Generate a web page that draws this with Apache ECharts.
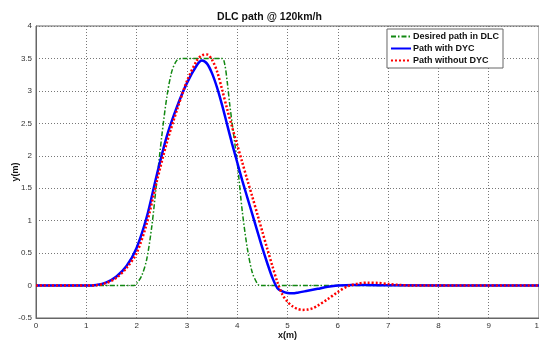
<!DOCTYPE html>
<html><head><meta charset="utf-8">
<script src="https://cdn.jsdelivr.net/npm/echarts@6/dist/echarts.min.js"></script>
<style>html,body{margin:0;padding:0;background:#fff}#c{width:539px;height:342px}</style>
</head><body><div id="c"></div>
<script>
const title = "DLC path @ 120km/h";
const xName = "x(m)";
const yName = "y(m)";
const seriesNames = ["Desired path in DLC", "Path with DYC", "Path without DYC"];

const desiredX = [0, 1.95, 2.0, 2.1, 2.2, 2.3, 2.4, 2.5, 2.6, 2.7, 2.8, 2.9, 3.7, 3.75, 3.8, 3.85, 3.9, 4.0, 4.1, 4.2, 4.3, 4.4, 4.45, 10];
const desiredY = [0, 0, 0.03, 0.15, 0.4, 0.9, 1.6, 2.3, 2.9, 3.3, 3.47, 3.5, 3.5, 3.42, 3.15, 2.8, 2.5, 1.9, 1.15, 0.58, 0.2, 0.03, 0, 0];

const dycX = [0, 1.0, 1.2, 1.4, 1.6, 1.8, 2.0, 2.2, 2.4, 2.6, 2.8, 3.0, 3.2, 3.3, 3.4, 3.5, 3.6, 3.7, 3.8, 3.9, 4.0, 4.1, 4.2, 4.3, 4.4, 4.5, 4.6, 4.7, 4.8, 4.9, 5.0, 5.1, 5.2, 5.4, 5.6, 5.8, 6.0, 6.3, 6.8, 10];
const dycY = [0, 0, 0.01, 0.05, 0.14, 0.3, 0.58, 1.05, 1.7, 2.3, 2.75, 3.12, 3.4, 3.47, 3.42, 3.27, 3.05, 2.78, 2.48, 2.18, 1.9, 1.62, 1.36, 1.1, 0.84, 0.58, 0.34, 0.12, -0.04, -0.09, -0.115, -0.12, -0.11, -0.08, -0.05, -0.02, 0, 0.01, 0.005, 0];

const noDycX = [0, 1.0, 1.2, 1.4, 1.6, 1.8, 2.0, 2.2, 2.4, 2.6, 2.8, 3.0, 3.2, 3.3, 3.4, 3.5, 3.6, 3.7, 3.8, 3.9, 4.0, 4.1, 4.2, 4.3, 4.4, 4.5, 4.6, 4.7, 4.8, 4.9, 5.0, 5.1, 5.2, 5.3, 5.4, 5.5, 5.6, 5.8, 6.0, 6.2, 6.4, 6.6, 6.8, 7.0, 7.2, 7.5, 10];
const noDycY = [0, 0, 0.005, 0.04, 0.12, 0.27, 0.5, 0.95, 1.6, 2.2, 2.7, 3.15, 3.47, 3.55, 3.56, 3.48, 3.3, 3.02, 2.72, 2.44, 2.17, 1.9, 1.63, 1.37, 1.1, 0.83, 0.56, 0.3, 0.05, -0.14, -0.25, -0.32, -0.36, -0.375, -0.37, -0.35, -0.31, -0.21, -0.1, -0.01, 0.03, 0.045, 0.04, 0.025, 0.01, 0, 0];

const xTicks = {min: 0, max: 10, interval: 1};
const yTicks = {min: -0.5, max: 4, interval: 0.5};

function pairs(xs, ys) { return xs.map((x, i) => [x, ys[i]]); }

const chart = echarts.init(document.getElementById('c'), null, {renderer: 'canvas'});
const FONT = 'Liberation Sans, Arial, sans-serif';
const axisLabelStyle = {color: '#333', fontSize: 8, fontFamily: FONT};
const splitStyle = {show: true, lineStyle: {color: '#777', type: [1, 2], width: 1}};
chart.setOption({
  animation: false,
  backgroundColor: '#fff',
  title: {text: title, left: 'center', top: 7, textStyle: {fontSize: 10.5, fontWeight: 'bold', color: '#111', fontFamily: FONT}},
  grid: {left: 36, right: 0, top: 26, bottom: 24, containLabel: false, outerBoundsMode: 'none', show: true, borderColor: '#666', borderWidth: 1},
  legend: {
    orient: 'vertical', right: 36, top: 29, itemWidth: 20, itemHeight: 8, itemGap: 3,
    backgroundColor: '#fff', borderColor: '#666', borderWidth: 1, padding: [3, 4, 3, 3], borderRadius: 0,
    itemStyle: {opacity: 0},
    textStyle: {fontSize: 9, fontWeight: 'bold', color: '#111', fontFamily: FONT, padding: [0, 0, 0, -3]},
    data: seriesNames
  },
  xAxis: {
    type: 'value', min: xTicks.min, max: xTicks.max, interval: xTicks.interval,
    name: xName, nameLocation: 'middle', nameGap: 13, nameMoveOverlap: false,
    nameTextStyle: {fontSize: 9, fontWeight: 'bold', color: '#111', fontFamily: FONT},
    axisLine: {show: true, onZero: false, lineStyle: {color: '#666'}},
    axisTick: {show: false},
    axisLabel: Object.assign({margin: 4}, axisLabelStyle),
    splitLine: splitStyle
  },
  yAxis: {
    type: 'value', min: yTicks.min, max: yTicks.max, interval: yTicks.interval,
    name: yName, nameLocation: 'middle', nameGap: 16, nameRotate: 90, nameMoveOverlap: false,
    nameTextStyle: {fontSize: 9, fontWeight: 'bold', color: '#111', fontFamily: FONT},
    axisLine: {show: true, onZero: false, lineStyle: {color: '#666'}},
    axisTick: {show: false},
    axisLabel: Object.assign({margin: 4}, axisLabelStyle),
    splitLine: splitStyle
  },
  series: [
    {name: seriesNames[0], type: 'line', data: pairs(desiredX, desiredY), smooth: 0.3, showSymbol: false, symbol: 'none',
     lineStyle: {color: '#118811', width: 1.5, type: [5, 2, 1.5, 2]}, itemStyle: {color: '#118811'}},
    {name: seriesNames[1], type: 'line', data: pairs(dycX, dycY), smooth: 0.3, showSymbol: false, symbol: 'none',
     lineStyle: {color: '#0000ff', width: 2.5, type: 'solid'}, itemStyle: {color: '#0000ff'}},
    {name: seriesNames[2], type: 'line', data: pairs(noDycX, noDycY), smooth: 0.3, showSymbol: false, symbol: 'none',
     lineStyle: {color: '#ff0000', width: 2.5, type: [2, 2]}, itemStyle: {color: '#ff0000'}}
  ]
});
</script>
</body></html>
